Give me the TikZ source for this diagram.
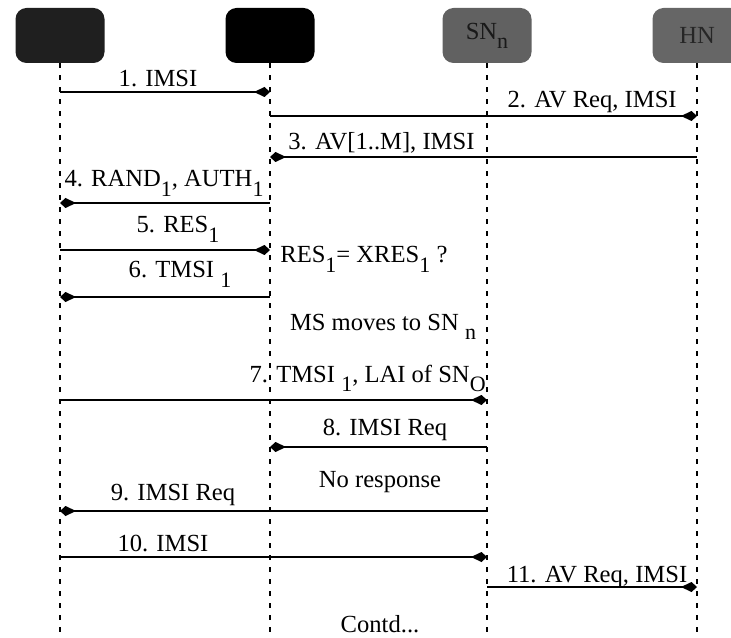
\documentclass[tikz,border=0pt]{standalone}
\usepackage{fontspec}
\setmainfont{Liberation Serif}
\usepackage{tikz}
\usetikzlibrary{
    positioning,
    arrows.meta,
    calc,
}
\newcommand{\msgfont}{\fontsize{14}{17}\selectfont}
\newcommand{\lowsub}[1]{\raisebox{-0.8ex}{\fontsize{12.5}{14}\selectfont #1}}

\begin{document}
\begin{tikzpicture}[
    entity/.style={rectangle, rounded corners=0.22cm, minimum width=1.78cm, minimum height=1.1cm, inner sep=0pt, font=\msgfont},
    lifeline/.style={dashed, dash pattern=on 0.1cm off 0.14cm, line width=0.7pt},
    msg/.style={-{Kite[length=0.32cm, width=0.2cm, inset=0.21cm]}, line width=0.9pt},
    lbl/.style={font=\msgfont, inner sep=0pt},
]
    \useasboundingbox (0, 0) rectangle (14.62, -12.74);
    \clip (0, 0) rectangle (14.62, -12.74);

    % Entities
    \node[entity, fill=black!88] (ms) at (1.2, -0.71) {};
    \node[entity, fill=black] (sno) at (5.4, -0.71) {};
    \node[entity, fill=black!62, text=black!90] (snn) at (9.74, -0.71) {SN\lowsub{n}};
    \node[entity, fill=black!60, text=black!85] (hn) at (13.94, -0.71) {HN};

    % Lifelines
    \coordinate (bottom) at (0, -12.74);
    \draw[lifeline] (ms.south) -- (ms |- bottom);
    \draw[lifeline] (sno.south) -- (sno |- bottom);
    \draw[lifeline] (snn.south) -- (snn |- bottom);
    \draw[lifeline] (hn.south) -- (hn |- bottom);

    % Message levels
    \coordinate (m1) at (0, -1.84);
    \coordinate (m2) at (0, -2.32);
    \coordinate (m3) at (0, -3.14);
    \coordinate (m4) at (0, -4.06);
    \coordinate (m5) at (0, -5.00);
    \coordinate (m6) at (0, -5.94);
    \coordinate (m7) at (0, -8.00);
    \coordinate (m8) at (0, -8.94);
    \coordinate (m9) at (0, -10.22);
    \coordinate (m10) at (0, -11.14);
    \coordinate (m11) at (0, -11.74);

    % Messages
    \draw[msg] (ms |- m1) -- (sno |- m1);
    \draw[msg] (sno |- m2) -- (hn |- m2);
    \draw[msg] (hn |- m3) -- (sno |- m3);
    \draw[msg] (sno |- m4) -- (ms |- m4);
    \draw[msg] (ms |- m5) -- (sno |- m5);
    \draw[msg] (sno |- m6) -- (ms |- m6);
    \draw[msg] (ms |- m7) -- (snn |- m7);
    \draw[msg] (snn |- m8) -- (sno |- m8);
    \draw[msg] (snn |- m9) -- (ms |- m9);
    \draw[msg] (ms |- m10) -- (snn |- m10);
    \draw[msg] (snn |- m11) -- (hn |- m11);

    % Labels
    \node[lbl, anchor=base] (l1) at (3.16, -1.73) {1. IMSI};
    \node[lbl, anchor=base east] (l2) at (13.54, -2.16) {2. AV Req, IMSI};
    \node[lbl, anchor=base west] (l3) at (5.76, -3.00) {3. AV[1..M], IMSI};
    \node[lbl, anchor=base] (l4) at (3.28, -3.74) {4. RAND\lowsub{1}, AUTH\lowsub{1}};
    \node[lbl, anchor=base] (l5) at (3.56, -4.66) {5. RES\lowsub{1}};
    \node[lbl, anchor=base] (l6) at (3.6, -5.56) {6. TMSI \lowsub{1}};
    \node[lbl, anchor=base west] (check) at (5.6, -5.26) {RES\lowsub{1}= XRES\lowsub{1} ?};
    \node[lbl, anchor=base] (move) at (7.66, -6.6) {MS moves to SN \lowsub{n}};
    \node[lbl, anchor=base east] (l7) at (9.72, -7.64) {7. TMSI \lowsub{1}, LAI of SN\lowsub{O}};
    \node[lbl, anchor=base] (l8) at (7.7, -8.70) {8. IMSI Req};
    \node[lbl, anchor=base] (noresp) at (7.6, -9.74) {No response};
    \node[lbl, anchor=base] (l9) at (3.46, -10.0) {9. IMSI Req};
    \node[lbl, anchor=base] (l10) at (3.26, -11.02) {10. IMSI};
    \node[lbl, anchor=base] (l11) at (11.94, -11.64) {11. AV Req, IMSI};
    \node[lbl, anchor=base] (contd) at (7.6, -12.64) {Contd...};
\end{tikzpicture}
\end{document}
